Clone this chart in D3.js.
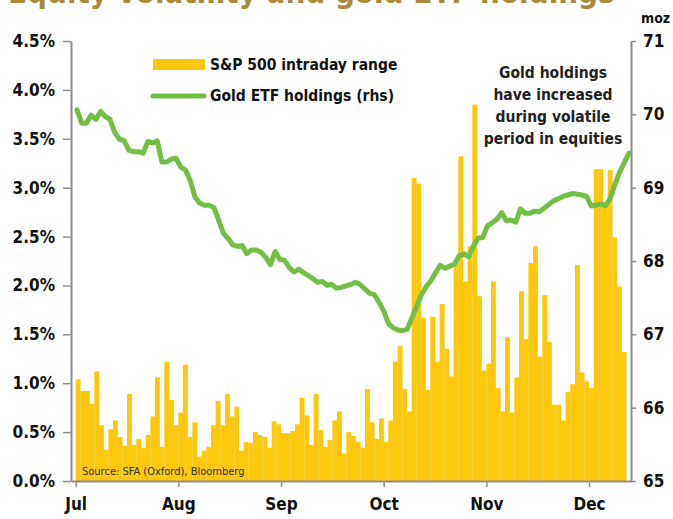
<!DOCTYPE html>
<html>
<head>
<meta charset="utf-8">
<script src="https://d3js.org/d3.v7.min.js"></script>
<style>
  body { margin: 0; background: #fff; }
  svg text { font-family: 'DejaVu Sans Condensed', 'Liberation Sans Narrow', 'Arial Narrow', sans-serif; }
</style>
</head>
<body>
<div id="chart"></div>
<script>

// S&P 500 intraday range, % (one bar per weekday, Jul -> mid Dec)
let rangeValues = [
  1.04, 0.92, 0.92, 0.79, 1.12, 0.57, 0.32, 0.53, 0.62, 0.45, 0.36, 0.89, 0.37, 0.43, 0.34, 0.47, 0.66, 1.06, 0.35, 1.22, 0.83, 0.57,
  0.70, 1.19, 0.45, 0.60, 0.25, 0.31, 0.35, 0.57, 0.82, 0.57, 0.89, 0.66, 0.76, 0.31, 0.40, 0.39, 0.50, 0.47, 0.45, 0.34, 0.61, 0.58,
  0.49, 0.49, 0.51, 0.58, 0.85, 0.67, 0.37, 0.89, 0.52, 0.35, 0.42, 0.62, 0.71, 0.28, 0.50, 0.46, 0.40, 0.34, 0.94, 0.60, 0.43, 0.64,
  0.40, 0.62, 1.22, 1.38, 0.94, 0.71, 3.10, 3.04, 1.67, 0.93, 1.68, 1.22, 1.81, 1.35, 1.07, 2.23, 3.32, 2.04, 2.40, 3.85, 1.89, 1.13,
  1.20, 2.04, 0.95, 0.71, 1.47, 0.70, 1.06, 1.94, 1.45, 2.23, 2.40, 1.27, 1.90, 1.42, 0.78, 0.78, 0.62, 0.91, 0.99, 2.21, 1.11, 1.02,
  0.95, 3.19, 3.19, 2.85, 3.18, 2.49, 1.99, 1.32
];

// Gold ETF holdings, moz (rhs)
let goldValues = [
  70.06, 69.88, 69.88, 69.99, 69.93, 70.04, 69.97, 69.93, 69.75, 69.66, 69.64, 69.51, 69.49, 69.49, 69.47, 69.63, 69.61, 69.64, 69.35, 69.35,
  69.39, 69.40, 69.28, 69.24, 69.10, 68.87, 68.79, 68.76, 68.76, 68.73, 68.56, 68.38, 68.31, 68.22, 68.20, 68.21, 68.10, 68.15, 68.15, 68.12,
  68.05, 67.95, 68.13, 68.02, 68.01, 67.91, 67.85, 67.89, 67.84, 67.80, 67.76, 67.71, 67.72, 67.67, 67.68, 67.63, 67.64, 67.66, 67.68, 67.71,
  67.68, 67.62, 67.56, 67.54, 67.44, 67.32, 67.15, 67.09, 67.06, 67.05, 67.07, 67.23, 67.38, 67.54, 67.65, 67.73, 67.84, 67.94, 67.90, 67.93,
  67.96, 68.07, 68.10, 68.06, 68.20, 68.31, 68.32, 68.48, 68.52, 68.57, 68.66, 68.55, 68.56, 68.53, 68.71, 68.65, 68.65, 68.68, 68.67, 68.72,
  68.77, 68.82, 68.85, 68.88, 68.90, 68.92, 68.91, 68.90, 68.88, 68.75, 68.76, 68.78, 68.75, 68.85, 69.04, 69.21, 69.34, 69.47
];

let monthLabels = ["Jul", "Aug", "Sep", "Oct", "Nov", "Dec"];
let monthStart = [0, 22, 44, 66, 88, 110];   // bar index where each month begins

let leftTicks = [0, 0.5, 1, 1.5, 2, 2.5, 3, 3.5, 4, 4.5];
let rightTicks = [65, 66, 67, 68, 69, 70, 71];

let noteLines = ["Gold holdings", "have increased", "during volatile", "period in equities"];

let W = 673, H = 519;
let plot = {left: 71, right: 631, top: 41, bottom: 481};

let axisGrey = "#8d8d8d";
let barColor = "#fdc70d";
let lineColor = "#73be45";

let svg = d3.select("#chart").append("svg")
    .attr("width", W)
    .attr("height", H);

// title, mostly cut off at the top of the picture
svg.append("text")
    .attr("x", 8)
    .attr("y", 3)
    .attr("fill", "#a98b3b")
    .style("font-size", "31px")
    .style("font-weight", "bold")
    .text("Equity volatility and gold ETF holdings");

let n = rangeValues.length;

let x = d3.scaleLinear()
    .domain([-1, n + 1])
    .range([plot.left, plot.right]);

let xLine = d3.scaleLinear()
    .domain([0, n - 1])
    .range([77, 629]);

let yL = d3.scaleLinear()
    .domain([0, 4.5])
    .range([plot.bottom, plot.top]);

let yR = d3.scaleLinear()
    .domain([65, 71])
    .range([plot.bottom, plot.top]);

let step = x(1) - x(0);

// bars
svg.append("g")
    .selectAll("rect")
    .data(rangeValues)
    .enter().append("rect")
    .attr("x", (d, i) => x(i))
    .attr("y", d => yL(d))
    .attr("width", step + 0.2)
    .attr("height", d => yL(0) - yL(d))
    .attr("fill", barColor);

// source note sits inside the bars
svg.append("text")
    .attr("x", 82)
    .attr("y", 475)
    .attr("fill", "#333")
    .style("font-size", "11px")
    .text("Source: SFA (Oxford), Bloomberg");

// gold line
let line = d3.line()
    .x((d, i) => xLine(i))
    .y(d => yR(d));

svg.append("path")
    .datum(goldValues)
    .attr("d", line)
    .attr("fill", "none")
    .attr("stroke", lineColor)
    .attr("stroke-width", 5)
    .attr("stroke-linejoin", "round")
    .attr("stroke-linecap", "round");

// axes
function styleAxis(g) {
    g.select(".domain").attr("stroke", axisGrey).attr("stroke-width", 2);
    g.selectAll(".tick line").attr("stroke", axisGrey).attr("stroke-width", 1.5);
    g.selectAll(".tick text")
        .attr("fill", "#111")
        .style("font-size", "17px")
        .style("font-weight", "bold");
}

let yAxisL = d3.axisLeft(yL)
    .tickValues(leftTicks)
    .tickSize(8)
    .tickSizeOuter(0)
    .tickPadding(8)
    .tickFormat(d => d3.format(".1f")(d) + "%");

svg.append("g")
    .attr("transform", "translate(" + plot.left + ",0)")
    .call(yAxisL)
    .call(styleAxis);

let yAxisR = d3.axisRight(yR)
    .tickValues(rightTicks)
    .tickSize(5)
    .tickSizeOuter(0)
    .tickPadding(7)
    .tickFormat(d3.format("d"));

svg.append("g")
    .attr("transform", "translate(" + plot.right + ",0)")
    .call(yAxisR)
    .call(styleAxis);

let xAxis = d3.axisBottom(x)
    .tickValues(monthStart)
    .tickSize(6)
    .tickSizeOuter(0)
    .tickPadding(11)
    .tickFormat((d, i) => monthLabels[i]);

svg.append("g")
    .attr("transform", "translate(0," + plot.bottom + ")")
    .call(xAxis)
    .call(styleAxis);

svg.append("text")
    .attr("x", 641)
    .attr("y", 23)
    .attr("fill", "#111")
    .style("font-size", "14px")
    .style("font-weight", "bold")
    .text("moz");

// legend
svg.append("rect")
    .attr("x", 153)
    .attr("y", 59)
    .attr("width", 52)
    .attr("height", 11)
    .attr("fill", barColor);

svg.append("line")
    .attr("x1", 153).attr("x2", 204)
    .attr("y1", 96).attr("y2", 96)
    .attr("stroke", lineColor)
    .attr("stroke-width", 5)
    .attr("stroke-linecap", "round");

svg.append("text")
    .attr("x", 210).attr("y", 70)
    .attr("fill", "#111")
    .style("font-size", "15.5px")
    .style("font-weight", "bold")
    .text("S&P 500 intraday range");

svg.append("text")
    .attr("x", 210).attr("y", 101)
    .attr("fill", "#111")
    .style("font-size", "15.5px")
    .style("font-weight", "bold")
    .text("Gold ETF holdings (rhs)");

// annotation
svg.append("g").selectAll("text")
    .data(noteLines)
    .enter().append("text")
    .attr("x", 553)
    .attr("y", (d, i) => 78 + i * 22)
    .attr("text-anchor", "middle")
    .attr("fill", "#222")
    .style("font-size", "15.5px")
    .style("font-weight", "bold")
    .text(d => d);

</script>
</body>
</html>
